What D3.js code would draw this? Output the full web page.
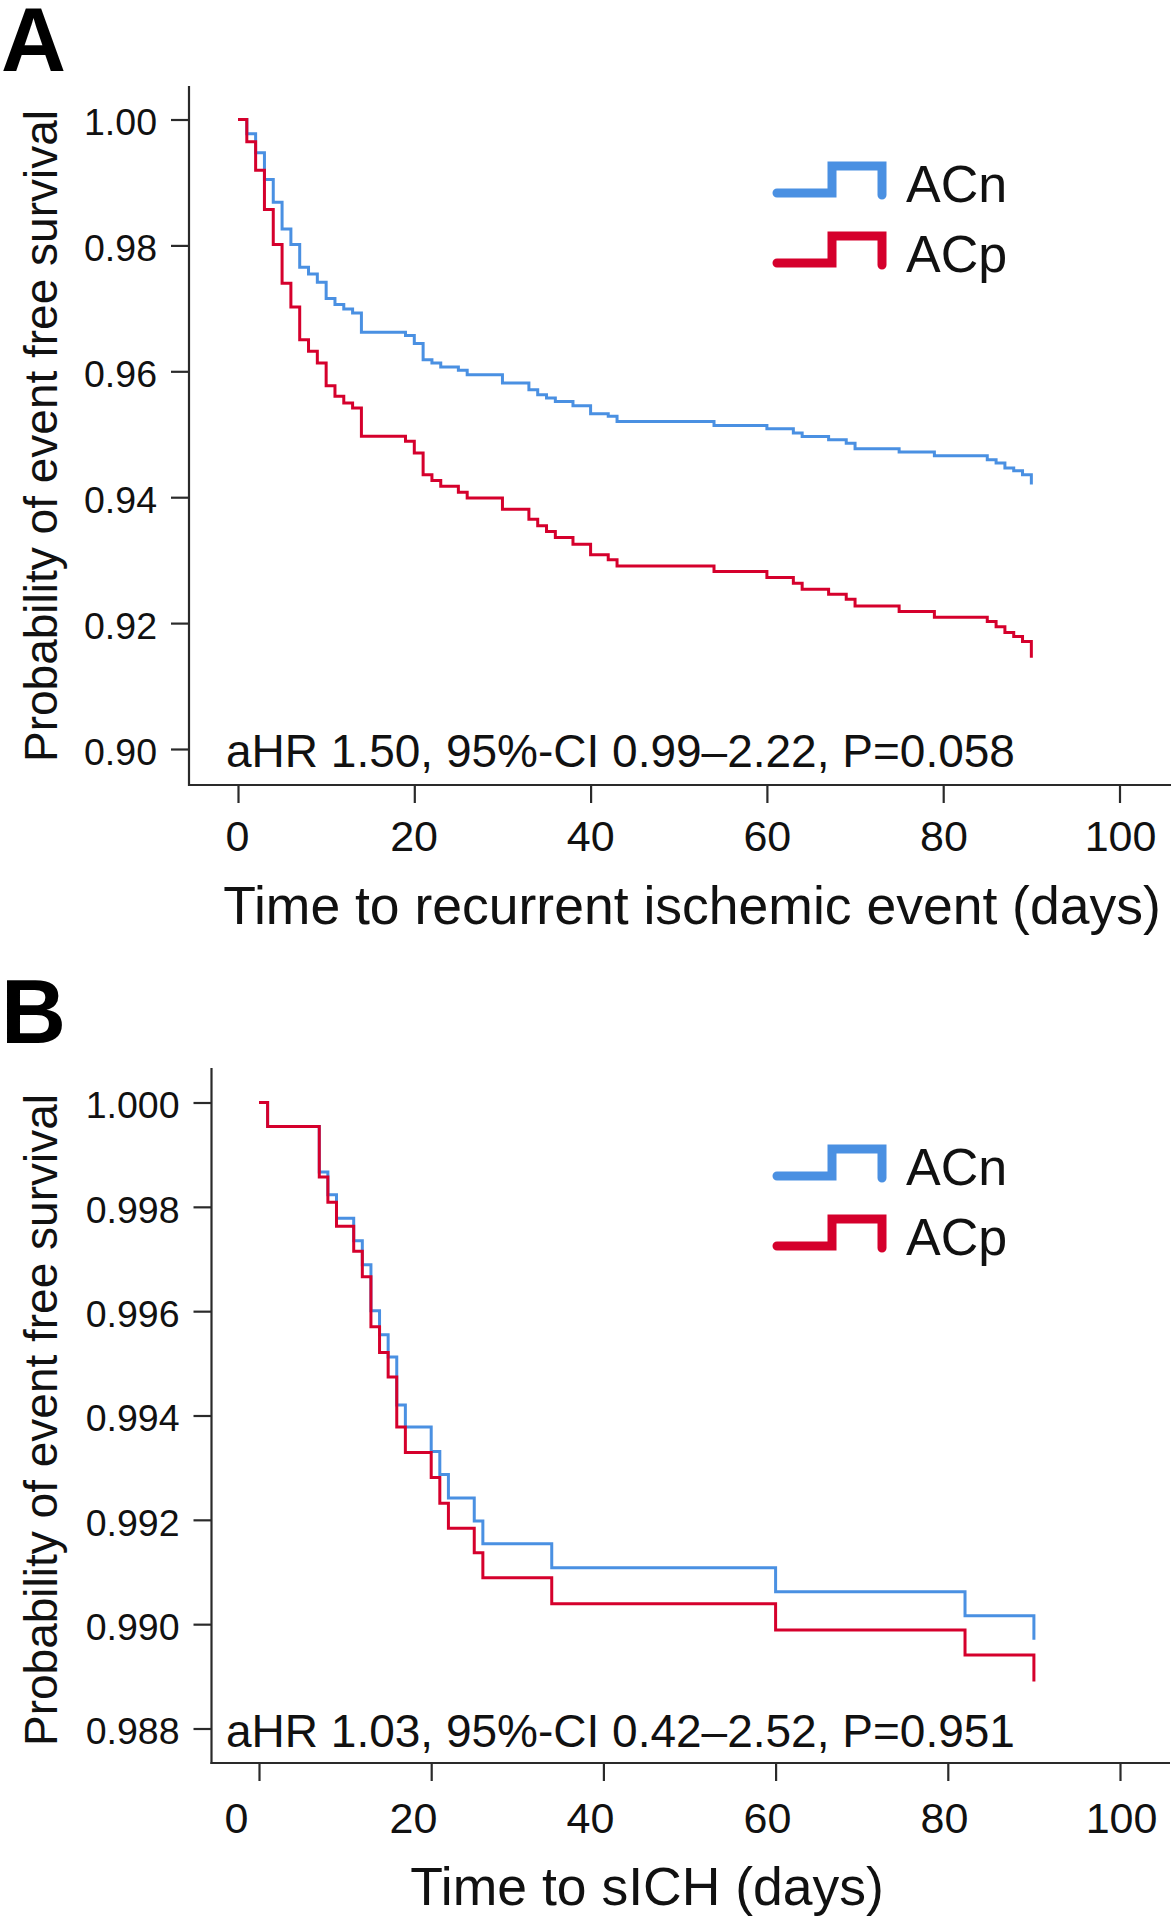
<!DOCTYPE html>
<html><head><meta charset="utf-8">
<script src="https://cdn.jsdelivr.net/npm/d3@7"></script>
<style>
body{margin:0;background:#fff}
text{font-family:"Liberation Sans",Arial,Helvetica,sans-serif;fill:#111}
</style>
</head><body>
<svg id="c" width="1175" height="1920"></svg>
<script>
// ---------- data ----------
const xTickValues = [0, 20, 40, 60, 80, 100];
const yTicksA = [0.90, 0.92, 0.94, 0.96, 0.98, 1.00];
const yTicksB = [0.988, 0.990, 0.992, 0.994, 0.996, 0.998, 1.000];
const seriesNames = ["ACn", "ACp"];
const seriesColors = ["#4a90e2", "#d5002c"];

// Panel A: recurrent ischemic event (Kaplan-Meier)
const daysA = [0,1,2,3,4,5,6,7,8,9,10,11,12,13,14,19,20,21,22,23,25,26,30,33,34,35,36,38,40,42,43,54,60,63,64,67,69,70,75,79,85,86,87,88,89,90];
const survA_ACn = [1.0,0.99772,0.9947,0.99046,0.98686,0.98262,0.98013,0.97653,0.97547,0.97415,0.97155,0.9706,0.96991,0.96927,0.9662,
  0.96567,0.9644,0.96185,0.96132,0.96069,0.96016,0.95947,0.95815,0.95707,0.95628,0.95575,0.95522,0.95453,0.95326,0.95284,0.95204,
  0.9514,0.95087,0.95019,0.94965,0.94913,0.94859,0.94769,0.94717,0.94658,0.94595,0.94542,0.94463,0.9442,0.94356,0.9420];
const survA_ACp = [1.0,0.99645,0.99195,0.9857,0.98013,0.974,0.97022,0.96503,0.96318,0.96132,0.95772,0.95603,0.95497,0.95417,0.94967,
  0.94887,0.94702,0.94358,0.94265,0.94175,0.94079,0.93989,0.9381,0.93651,0.93545,0.93455,0.93359,0.93254,0.93084,0.93005,0.92909,
  0.92819,0.92724,0.92634,0.92539,0.92459,0.9238,0.92273,0.92183,0.92094,0.92024,0.91944,0.91849,0.91786,0.91706,0.9145];

// Panel B: sICH
const daysB = [0,1,7,8,9,11,12,13,14,15,16,17,20,21,22,25,26,34,60,82,90];
const survB_ACn = [1.0,0.99954,0.99867,0.99823,0.99778,0.99735,0.99689,0.99601,0.99555,0.99512,0.9942,0.99378,0.99331,0.99287,0.99242,0.99198,0.99154,0.99108,0.99062,0.99016,0.9897];
const survB_ACp = [1.0,0.99954,0.99857,0.99809,0.99763,0.99715,0.99666,0.9957,0.99521,0.99474,0.99378,0.99329,0.99281,0.99232,0.99184,0.99137,0.99089,0.99039,0.98989,0.98941,0.9889];

const panelLetters = ["A", "B"];
const xTitles = ["Time to recurrent ischemic event (days)", "Time to sICH (days)"];
const yTitle = "Probability of event free survival";
const notes = ["aHR 1.50, 95%-CI 0.99\u20132.22, P=0.058", "aHR 1.03, 95%-CI 0.42\u20132.52, P=0.951"];

// ---------- layout ----------
const panels = [
  {letter: panelLetters[0], letterY: 71,
   xRange: [238, 1119.5], yDomain: [0.90, 1.00], yRange: [749, 119.5],
   yTicks: yTicksA, yFmt: d3.format(".2f"),
   axisX: 189, axisTop: 86, axisY: 785, axisRight: 1171,
   xLabelRange: [237, 1120], xLabelDy: 66,
   xTitle: xTitles[0], xTitleX: 692, xTitleY: 924, yTitleY: 436,
   note: notes[0], noteY: 767, legendY: 193,
   days: [daysA, daysA], surv: [survA_ACn, survA_ACp]},
  {letter: panelLetters[1], letterY: 1043,
   xRange: [259, 1120], yDomain: [0.988, 1.000], yRange: [1728.5, 1102.5],
   yTicks: yTicksB, yFmt: d3.format(".3f"),
   axisX: 211.5, axisTop: 1068, axisY: 1763, axisRight: 1170,
   xLabelRange: [236, 1121], xLabelDy: 70,
   xTitle: xTitles[1], xTitleX: 647, xTitleY: 1905, yTitleY: 1420,
   note: notes[1], noteY: 1747, legendY: 1176,
   days: [daysB, daysB], surv: [survB_ACn, survB_ACp]}
];

const svg = d3.select("#c");
svg.append("rect").attr("width", 1175).attr("height", 1920).attr("fill", "#fff");
const axisColor = "#2a2a2a";

panels.forEach(p => {
  const g = svg.append("g");
  const x = d3.scaleLinear().domain([0, 100]).range(p.xRange);
  const y = d3.scaleLinear().domain(p.yDomain).range(p.yRange);
  const xLab = d3.scaleLinear().domain([0, 100]).range(p.xLabelRange);

  // panel letter
  g.append("text").attr("x", 1).attr("y", p.letterY)
    .attr("font-size", 90).attr("font-weight", "bold").style("fill", "#000").text(p.letter);

  // y axis
  const ya = g.append("g").attr("transform", `translate(${p.axisX},0)`)
    .call(d3.axisLeft(y).tickValues(p.yTicks).tickSize(18).tickPadding(14).tickFormat(p.yFmt));
  ya.select(".domain").remove();
  ya.selectAll(".tick line").attr("stroke", axisColor).attr("stroke-width", 2.2);
  ya.selectAll(".tick text").attr("font-size", 37.5).attr("dy", "0.41em")
    .attr("font-family", "Liberation Sans, Arial, sans-serif").style("fill", "#111");

  // x axis
  const xa = g.append("g").attr("transform", `translate(0,${p.axisY})`)
    .call(d3.axisBottom(x).tickValues(xTickValues).tickSize(18).tickFormat(d3.format("d")));
  xa.select(".domain").remove();
  xa.selectAll(".tick line").attr("stroke", axisColor).attr("stroke-width", 2.2);
  xa.selectAll(".tick text").attr("font-size", 43).attr("y", p.xLabelDy).attr("dy", 0)
    .attr("x", d => xLab(d) - x(d))
    .attr("font-family", "Liberation Sans, Arial, sans-serif").style("fill", "#111");

  // axis lines
  g.append("line").attr("x1", p.axisX).attr("x2", p.axisX).attr("y1", p.axisTop).attr("y2", p.axisY + 1)
    .attr("stroke", axisColor).attr("stroke-width", 2.2);
  g.append("line").attr("x1", p.axisX - 1).attr("x2", p.axisRight).attr("y1", p.axisY).attr("y2", p.axisY)
    .attr("stroke", axisColor).attr("stroke-width", 2.2);

  // curves
  const line = d3.line().x(d => x(d[0])).y(d => y(d[1])).curve(d3.curveStepAfter);
  seriesNames.forEach((name, i) => {
    const pts = p.days[i].map((d, k) => [d, p.surv[i][k]]);
    g.append("path").datum(pts).attr("d", line).attr("fill", "none")
      .attr("stroke", seriesColors[i]).attr("stroke-width", 3).attr("stroke-linejoin", "miter");
  });

  // annotation
  g.append("text").attr("x", 226).attr("y", p.noteY).attr("font-size", 46).text(p.note);

  // axis titles
  g.append("text").attr("x", p.xTitleX).attr("y", p.xTitleY).attr("text-anchor", "middle")
    .attr("font-size", 53.5).text(p.xTitle);
  g.append("text").attr("transform", `translate(57,${p.yTitleY}) rotate(-90)`)
    .attr("text-anchor", "middle").attr("font-size", 46).text(yTitle);

  // legend
  const sym = [[0, 0], [55, 0], [55, -27], [105, -27], [105, 2]];
  seriesNames.forEach((name, i) => {
    const ly = p.legendY + i * 70;
    g.append("path").attr("d", d3.line()(sym.map(s => [777 + s[0], ly + s[1]])))
      .attr("fill", "none").attr("stroke", seriesColors[i]).attr("stroke-width", 9)
      .attr("stroke-linecap", "round").attr("stroke-linejoin", "miter");
    g.append("text").attr("x", 906).attr("y", ly + 8.5).attr("font-size", 52).text(name);
  });
});
</script>
</body></html>
